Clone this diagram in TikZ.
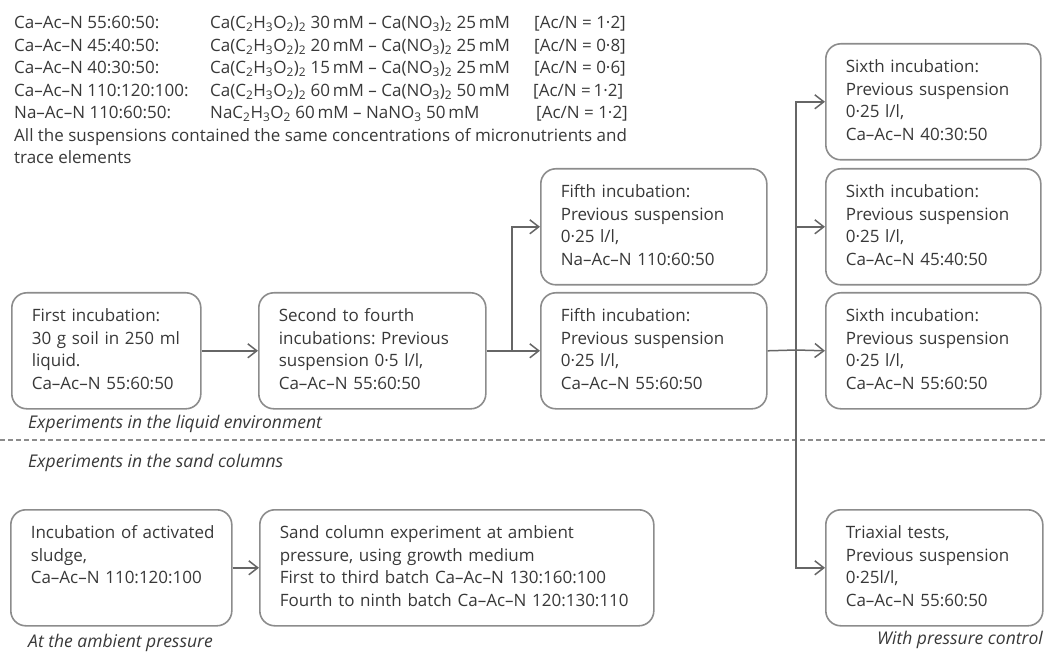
\documentclass[tikz,border=0pt]{standalone}
\usepackage{fontspec}
\setmainfont{Open Sans}
\usetikzlibrary{arrows.meta}
\definecolor{txt}{HTML}{383838}
\definecolor{bord}{HTML}{8C8C8C}
\definecolor{conn}{HTML}{666666}
\newcommand{\sbs}[1]{\textsubscript{#1}}
\newcommand{\tl}[1]{\begin{tabular}{@{}l@{}}#1\end{tabular}}
\frenchspacing
\begin{document}
\begin{tikzpicture}[x=1pt,y=-1pt,
  font=\fontsize{17}{22.5}\selectfont,
  every node/.style={text=txt},
  box/.style={draw=bord, line width=1.6pt, rounded corners=15pt, anchor=north west,
    inner xsep=20pt, inner ysep=0pt, minimum height=116pt, align=left},
  conn/.style={draw=conn, line width=1.5pt},
  arr/.style={conn, -{Straight Barb[length=9pt,width=14pt,line width=1.5pt]}},
  hd/.style={anchor=base west, inner sep=0pt},
  lab/.style={font=\fontsize{17.5}{22.5}\selectfont\itshape, inner sep=0pt}]
\useasboundingbox (0,0) rectangle (1045,655);

% header
\node[hd] (h1a) at (14,29) {Ca–Ac–N 55:60:50:};
\node[hd] (h1b) at (210,29) {Ca(C\sbs{2}H\sbs{3}O\sbs{2})\sbs{2} 30\,mM – Ca(NO\sbs{3})\sbs{2} 25\,mM};
\node[hd] (h1c) at (534,29) {[Ac/N = 1·2]};
\node[hd] (h2a) at (14,51.5) {Ca–Ac–N 45:40:50:};
\node[hd] (h2b) at (210,51.5) {Ca(C\sbs{2}H\sbs{3}O\sbs{2})\sbs{2} 20\,mM – Ca(NO\sbs{3})\sbs{2} 25\,mM};
\node[hd] (h2c) at (534,51.5) {[Ac/N = 0·8]};
\node[hd] (h3a) at (14,74) {Ca–Ac–N 40:30:50:};
\node[hd] (h3b) at (210,74) {Ca(C\sbs{2}H\sbs{3}O\sbs{2})\sbs{2} 15\,mM – Ca(NO\sbs{3})\sbs{2} 25\,mM};
\node[hd] (h3c) at (534,74) {[Ac/N = 0·6]};
\node[hd] (h4a) at (14,96.5) {Ca–Ac–N 110:120:100:};
\node[hd] (h4b) at (210,96.5) {Ca(C\sbs{2}H\sbs{3}O\sbs{2})\sbs{2} 60\,mM – Ca(NO\sbs{3})\sbs{2} 50\,mM};
\node[hd] (h4c) at (533,96.5) {[Ac/N =\,1·2]};
\node[hd] (h5a) at (14,119) {Na–Ac–N 110:60:50:};
\node[hd] (h5b) at (210,119) {NaC\sbs{2}H\sbs{3}O\sbs{2} 60\,mM – NaNO\sbs{3} 50\,mM};
\node[hd] (h5c) at (536,119) {[Ac/N = 1·2]};
\node[hd] (h6) at (14,141.5) {All the suspensions contained the same concentrations of micronutrients and};
\node[hd] (h7) at (14,164) {trace elements};

% liquid environment boxes
\node[box, text width=149pt] (A) at (11,292) {\tl{First incubation:\\30 g soil in 250 ml\\liquid.\\Ca–Ac–N 55:60:50}};
\node[box, text width=187pt] (B) at (258,292) {\tl{Second to fourth\\incubations: Previous\\suspension 0·5 l/l,\\Ca–Ac–N 55:60:50}};
\node[box, text width=186pt] (F1) at (540,168) {\tl{Fifth incubation:\\Previous suspension\\0·25 l/l,\\Na–Ac–N 110:60:50}};
\node[box, text width=186pt] (F2) at (540,292) {\tl{Fifth incubation:\\Previous suspension\\0·25 l/l,\\Ca–Ac–N 55:60:50}};
\node[box, text width=175pt] (S1) at (825,43) {\tl{Sixth incubation:\\Previous suspension\\0·25 l/l,\\Ca–Ac–N 40:30:50}};
\node[box, text width=175pt] (S2) at (825,168) {\tl{Sixth incubation:\\Previous suspension\\0·25 l/l,\\Ca–Ac–N 45:40:50}};
\node[box, text width=175pt] (S3) at (825,292) {\tl{Sixth incubation:\\Previous suspension\\0·25 l/l,\\Ca–Ac–N 55:60:50}};
\node[box, text width=177pt] (T) at (825,509) {\tl{Triaxial tests,\\Previous suspension\\0·25l/l,\\Ca–Ac–N 55:60:50}};

% sand column boxes
\node[box, text width=181pt] (I) at (10,509) {\tl{Incubation of activated\\sludge,\\Ca–Ac–N 110:120:100\\\mbox{}}};
\node[box, text width=354pt] (SC) at (259,509) {\tl{Sand column experiment at ambient\\pressure, using growth medium\\First to third batch Ca–Ac–N 130:160:100\\Fourth to ninth batch Ca–Ac–N 120:130:110}};

% labels
\node[lab, anchor=west] (l1) at (28,424) {Experiments in the liquid environment};
\node[lab, anchor=west] (l2) at (28,463) {Experiments in the sand columns};
\node[lab, anchor=west] (l3) at (28,643) {At the ambient pressure};
\node[lab, anchor=east] (l4) at (1043,640) {With pressure control};

% dashed separator
\coordinate (dl) at (0,440);
\coordinate (dr) at (1045,440);
\draw[bord, line width=1.2pt, dash pattern=on 5pt off 3pt] (dl) -- (dr);

% connectors
\draw[arr] (A) -- (B);
\draw[arr] (B) -- (F2);
\coordinate (j1) at (512,350);
\draw[arr] (j1) |- (F1.west);
\coordinate (j2) at (796,350);
\draw[conn] (F2.east) -- (j2);
\draw[arr] (j2) |- (S1.west);
\draw[arr] (j2) |- (S2.west);
\draw[arr] (j2) -- (S3.west);
\draw[arr] (j2) |- (T.west);
\draw[arr] (I) -- (SC);
\end{tikzpicture}
\end{document}
